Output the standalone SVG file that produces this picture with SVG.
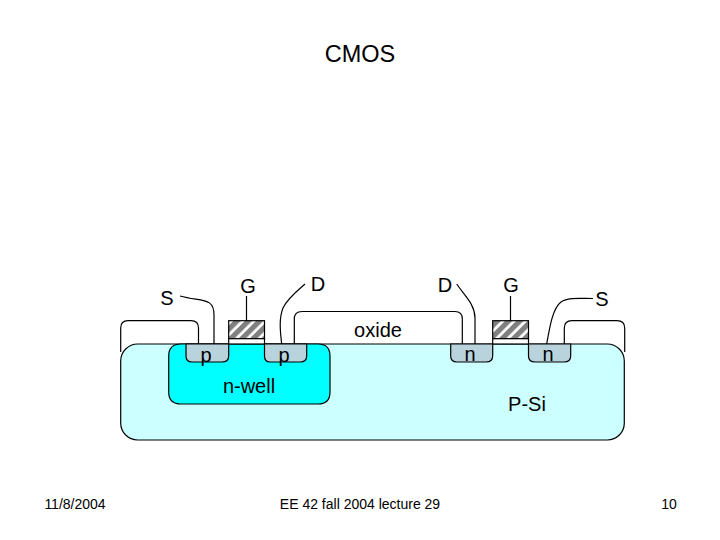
<svg xmlns="http://www.w3.org/2000/svg" width="720" height="540" viewBox="0 0 720 540">
<style>
text{font-family:"Liberation Sans",Arial,sans-serif;font-size:20px;fill:#000;text-anchor:middle}
.f{font-size:14px}
.s{stroke:#000;stroke-width:1.2}
.w{fill:none;stroke:#000;stroke-width:1.2}
</style>
<defs>
<pattern id="h" width="8" height="8" patternUnits="userSpaceOnUse" patternTransform="rotate(45)">
<rect width="8" height="8" fill="#fff"/><rect width="5.2" height="8" fill="#808080"/>
</pattern>
</defs>
<rect width="720" height="540" fill="#fff"/>
<text x="360" y="62" style="font-size:23.5px">CMOS</text>
<g id="connectors">
<path class="w" d="M198.500 344V328Q198.500 320.700 191 320.700H128Q120.700 320.700 120.700 328V352"/>
<path class="w" d="M294.300 344V319Q294.300 311.500 302 311.500H455Q462.300 311.500 462.300 319V344"/>
<path class="w" d="M564.300 344V328Q564.300 320.700 572 320.700H617Q624.700 320.700 624.700 328V352"/>
<path class="w" d="M214 344V315C214 297 202 302 180 296"/>
<path class="w" d="M246.500 296V321"/>
<path class="w" d="M281.700 344C280 330 279 318 283 308C287 299 297 291 305 284"/>
<path class="w" d="M475 344V318C475 304 464 295 456.700 284"/>
<path class="w" d="M510.500 296V321"/>
<path class="w" d="M546.700 344C550 325 553 308 561 302C568 297 580 298.500 593 298.500"/>
</g>
<g id="substrate"><rect class="s" x="120.700" y="344" width="503.600" height="96" rx="17" fill="#ccffff"/></g>
<g id="nwell"><path class="s" fill="#00ffff" d="M168.700 356Q168.700 344 181 344H318Q330 344 330 356V392Q330 404 318 404H181Q168.700 404 168.700 392Z"/><text x="249" y="393">n-well</text></g>
<g id="oxide"><text x="378" y="337">oxide</text></g>
<g id="p1"><path class="s" fill="#b9d3dc" d="M186 344H228.700V356Q228.700 362 222 362H192Q186 362 186 356Z"/><text x="206" y="362">p</text></g>
<g id="p2"><path class="s" fill="#b9d3dc" d="M264.500 344H306.700V356Q306.700 362 300 362H270Q264.500 362 264.500 356Z"/><text x="284" y="362">p</text></g>
<g id="n1"><path class="s" fill="#b9d3dc" d="M450.700 344H492.700V356Q492.700 362 486 362H457Q450.700 362 450.700 356Z"/><text x="470" y="361">n</text></g>
<g id="n2"><path class="s" fill="#b9d3dc" d="M528.500 344H570.700V356Q570.700 362 564 362H535Q528.500 362 528.500 356Z"/><text x="548" y="361">n</text></g>
<g id="gate1"><rect class="s" x="228.700" y="320.700" width="35.800" height="18" fill="url(#h)"/><rect class="s" x="228.700" y="338.700" width="35.800" height="5.300" fill="#fff"/></g>
<g id="gate2"><rect class="s" x="492.700" y="320.700" width="35.800" height="18" fill="url(#h)"/><rect class="s" x="492.700" y="338.700" width="35.800" height="5.300" fill="#fff"/></g>
<g id="labels">
<text x="167" y="305">S</text><text x="248" y="293">G</text><text x="318" y="291">D</text>
<text x="445" y="292">D</text><text x="511" y="292">G</text><text x="602" y="306">S</text>
<text x="527" y="411">P-Si</text>
<text class="f" x="75" y="509">11/8/2004</text>
<text class="f" x="360" y="509">EE 42 fall 2004 lecture 29</text>
<text class="f" x="669" y="509">10</text>
</g>
</svg>
